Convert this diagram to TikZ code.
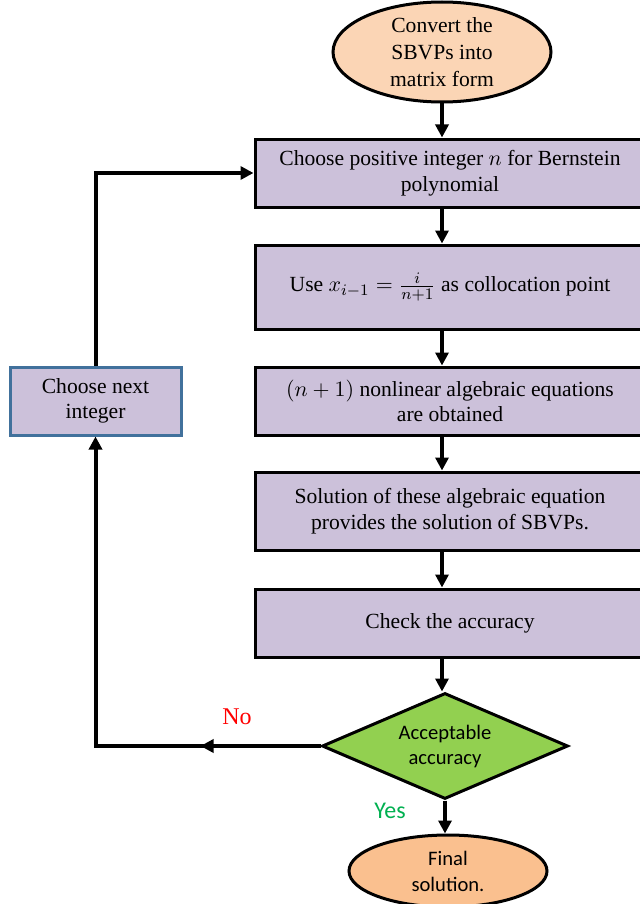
\documentclass[tikz,border=0pt]{standalone}
\usepackage{fontspec}
\setmainfont{LiberationSerif}[Extension=.ttf, UprightFont=*-Regular, ItalicFont=*-Italic, BoldFont=*-Bold]
\newfontfamily\timesfont{LiberationSerif}[Extension=.ttf, UprightFont=*-Regular, ItalicFont=*-Italic, BoldFont=*-Bold]
\newfontfamily\calibri{Carlito}
\usepackage{tikz}
\usetikzlibrary{shapes.geometric, arrows.meta}
\usetikzlibrary{decorations.markings}

\definecolor{boxlilac}{RGB}{204,193,218}
\definecolor{startpeach}{RGB}{251,213,181}
\definecolor{endpeach}{RGB}{250,192,143}
\definecolor{decgreen}{RGB}{146,208,80}
\definecolor{backblue}{RGB}{65,113,156}
\definecolor{yesgreen}{RGB}{0,176,80}

\tikzset{
    procbox/.style={draw=black, line width=1.5pt, fill=boxlilac, minimum width=195pt,
        align=center, inner sep=2pt, font=\timesfont\fontsize{10.8}{12.8}\selectfont},
    term/.style={ellipse, draw=black, line width=1.5pt, align=center, inner sep=0pt},
    flow/.style={line width=2pt, -{Triangle[length=6.5pt,width=6.5pt]}},
}

\begin{document}
\begin{tikzpicture}[x=0.5pt, y=-0.5pt]
    \useasboundingbox (0,0) rectangle (640,904);
    \node[term, fill=startpeach, minimum width=109pt, minimum height=50pt,
        font=\timesfont\fontsize{10.8}{13.5}\selectfont] (convert) at (442,52)
        {Convert the\\SBVPs into\\matrix form};
    \node[procbox, minimum height=34pt] (choose) at (450,173)
        {Choose positive integer $n$ for Bernstein\\polynomial};
    \node[procbox, minimum height=42pt] (colloc) at (450,287)
        {Use $x_{i-1}=\frac{i}{n+1}$ as collocation point};
    \node[procbox, minimum height=34pt] (eqns) at (450,401)
        {$(n+1)$ nonlinear algebraic equations\\are obtained};
    \node[procbox, minimum height=39pt] (solve) at (450,511)
        {Solution of these algebraic equation\\provides the solution of SBVPs.};
    \node[procbox, minimum height=34pt] (check) at (450,623) {Check the accuracy};
    \node[diamond, draw=black, line width=1.5pt, fill=decgreen, aspect=2.3,
        minimum width=123pt, minimum height=53pt, inner sep=0pt, align=center,
        font=\calibri\fontsize{10.3}{12.5}\selectfont] (accept) at (445,746)
        {Acceptable\\accuracy};
    \node[term, fill=endpeach, minimum width=99pt, minimum height=36pt,
        font=\calibri\fontsize{10.3}{13}\selectfont] (final) at (448,871)
        {Final\\solution.};
    \node[procbox, draw=backblue, minimum width=85.5pt, minimum height=34pt] (back)
        at (95.5,401) {Choose next\\integer};
    \node[text=red, font=\timesfont\fontsize{12}{14}\selectfont] (no) at (237,717) {No};
    \node[text=yesgreen, font=\calibri\fontsize{12}{14}\selectfont] (yes) at (390,811) {Yes};

    % main column
    \draw[flow] (convert.south) -- (convert |- choose.north);
    \foreach \a/\b in {choose/colloc, colloc/eqns, eqns/solve, solve/check, check/accept}
        \draw[flow] (convert |- \a.south) -- (convert |- \b.north);
    \draw[flow] (accept.south) -- (accept.south |- final.north);

    % loop back
    \draw[flow, postaction={decorate}, decoration={markings,
        mark=at position 60pt with {\arrow{Triangle[length=6.5pt,width=6.5pt]}}}]
        (accept.west) -| (back.south);
    \draw[flow] (back.north) |- (choose.west);
\end{tikzpicture}
\end{document}
